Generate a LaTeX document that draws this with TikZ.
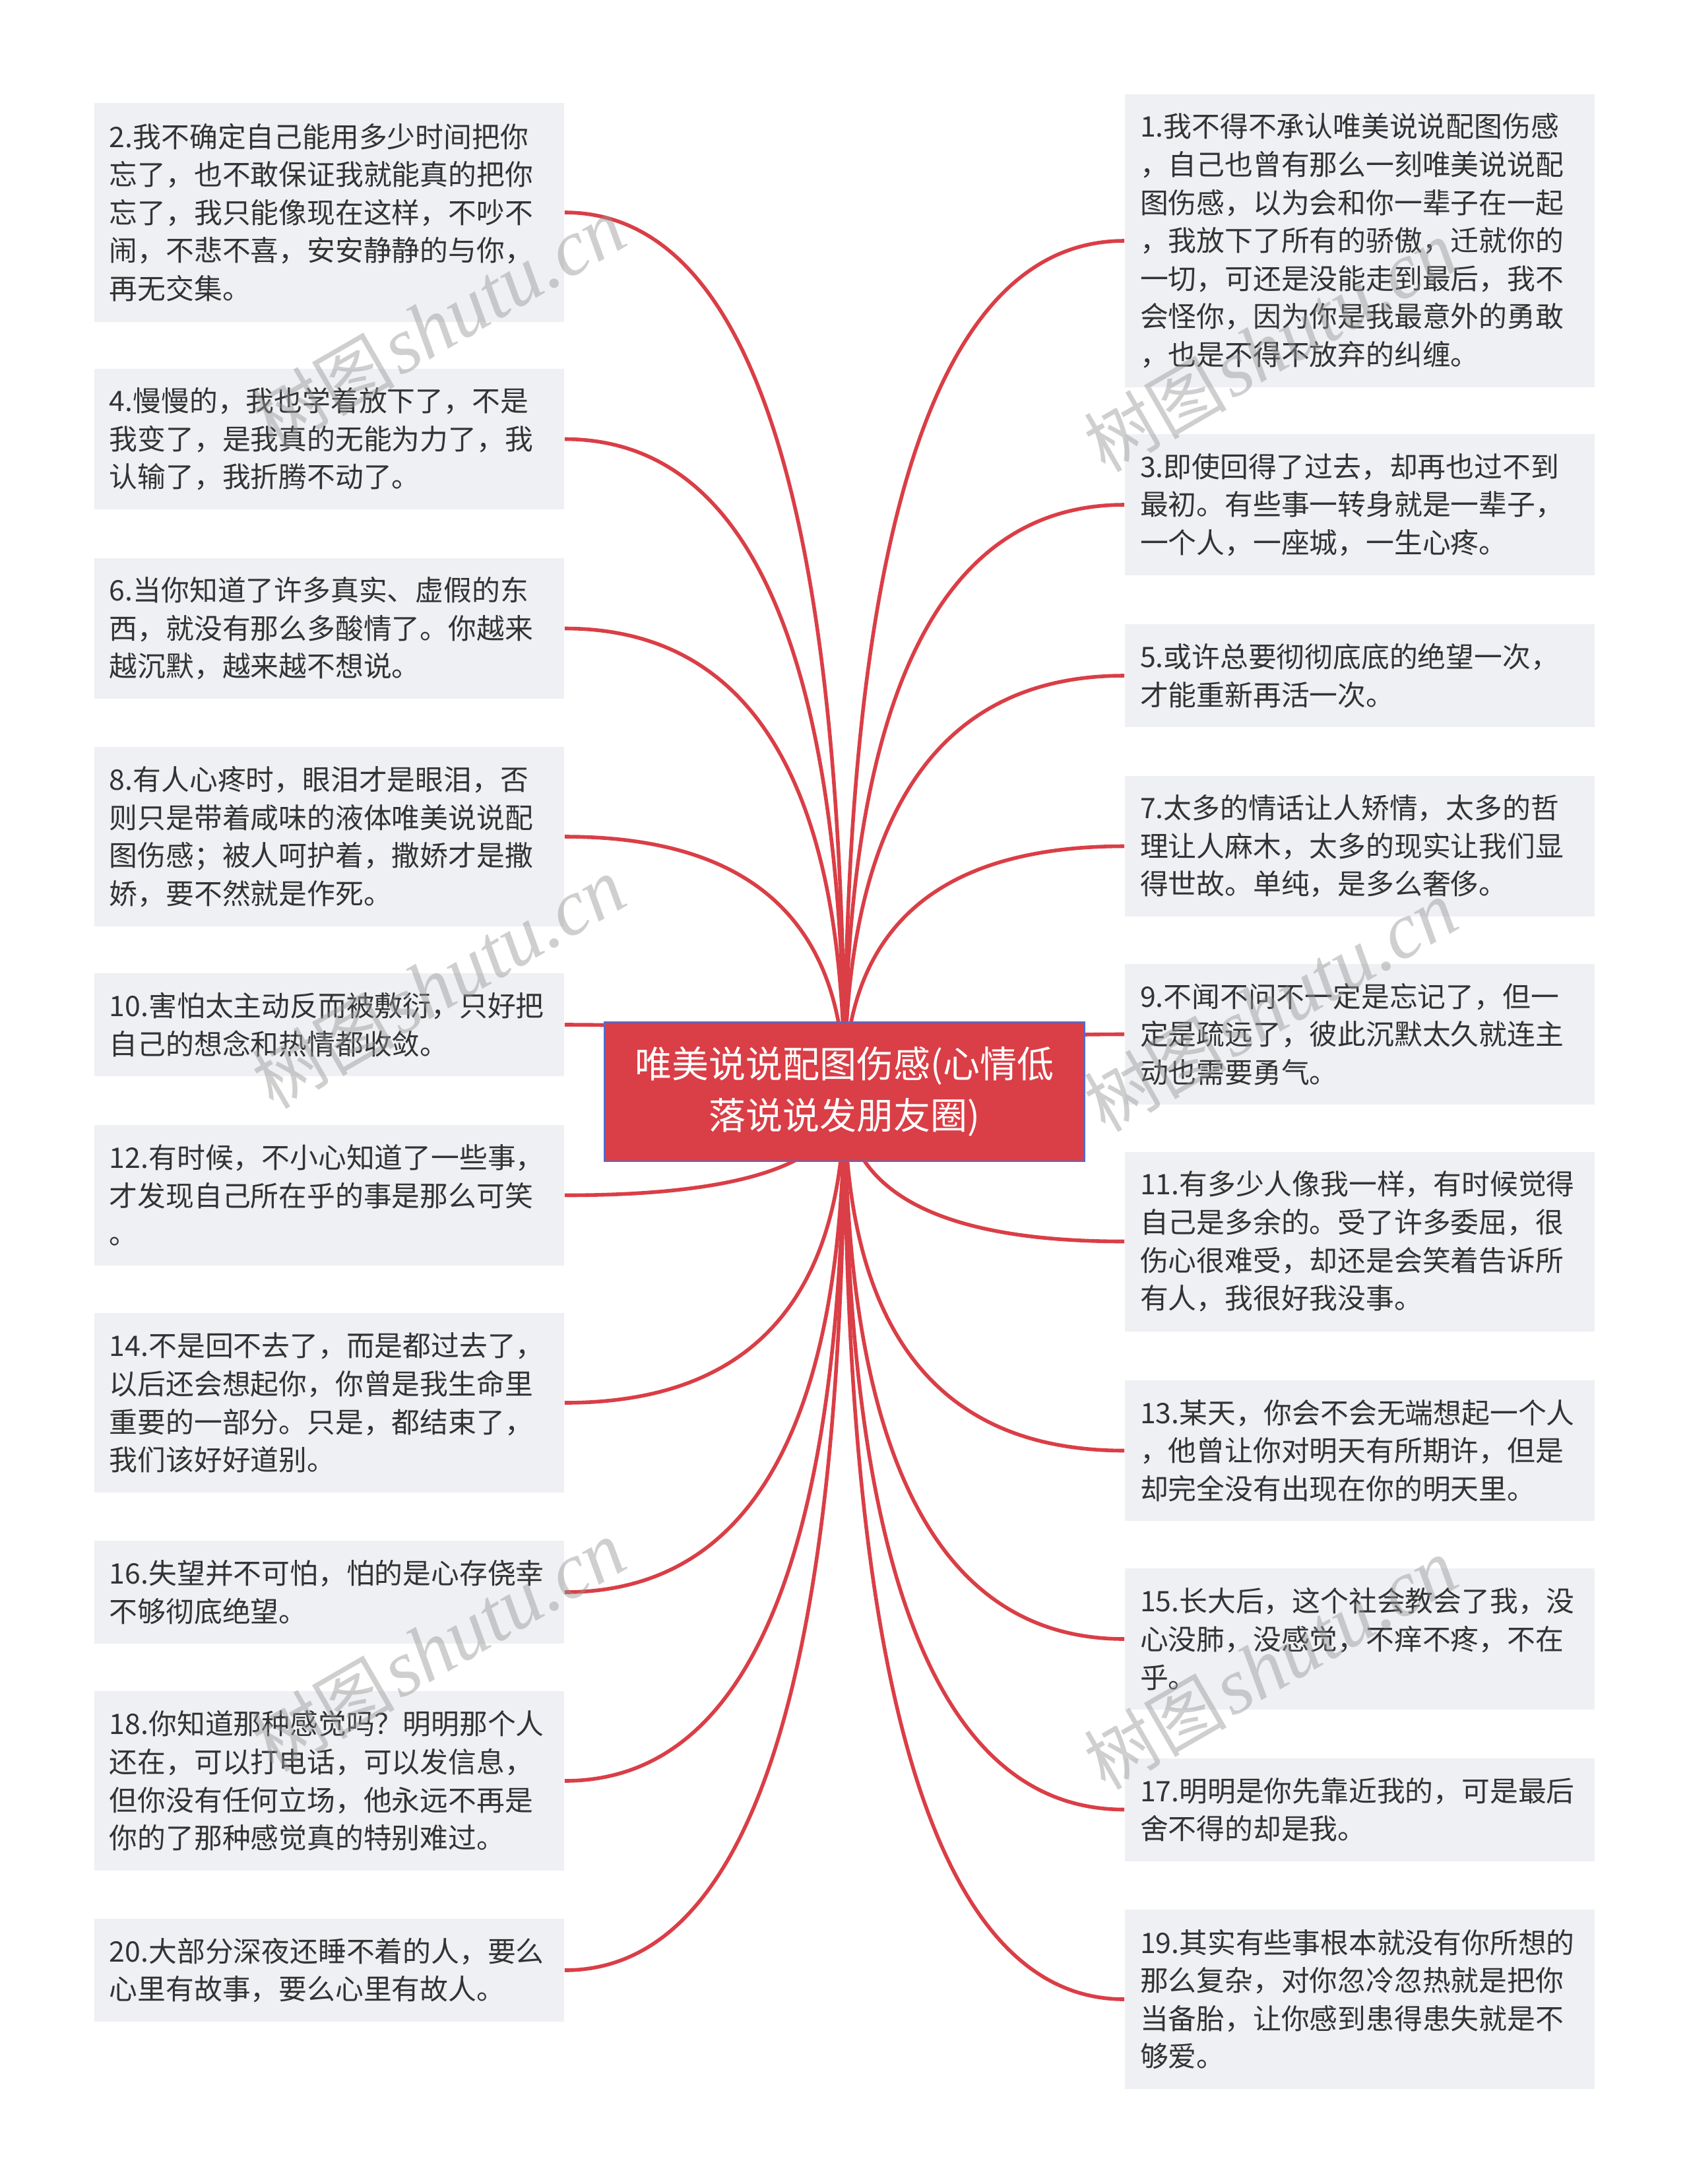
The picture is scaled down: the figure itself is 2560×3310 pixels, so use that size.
\documentclass[tikz,border=0pt]{standalone}
\usepackage{fontspec}
\newfontfamily\cjk{Noto Sans CJK SC}
\newfontfamily\wmlatin{Liberation Serif}
\usetikzlibrary{calc}
\pgfdeclarelayer{bg}
\pgfsetlayers{bg,main}
\definecolor{linkred}{RGB}{218,62,70}
\definecolor{rootblue}{RGB}{70,110,220}
\definecolor{boxbg}{RGB}{238,240,243}
\definecolor{txt}{RGB}{51,51,51}
\definecolor{wmgray}{RGB}{150,150,150}
\begin{document}
\begin{tikzpicture}[x=0.25pt,y=-0.25pt,
  leaf/.style={rectangle, fill=boxbg, text=txt, font=\cjk\fontsize{10.7pt}{14.4pt}\selectfont,
    align=left, text width=166.5pt, inner xsep=5.75pt, inner ysep=0pt, minimum width=178pt},
  l2/.style={leaf, minimum height=39pt},
  l3/.style={leaf, minimum height=53.4pt},
  l4/.style={leaf, minimum height=68pt},
  l5/.style={leaf, minimum height=83pt},
  l7/.style={leaf, minimum height=111pt},
  root/.style={rectangle, fill=linkred, draw=rootblue, line width=0.5pt, text=white,
    font=\cjk\fontsize{14pt}{19.5pt}\selectfont, align=center,
    minimum width=182pt, minimum height=52.75pt, inner sep=0pt},
  link/.style={draw=linkred, line width=1.4pt},
  wm/.style={text=wmgray, opacity=0.45, rotate=30, inner sep=0pt}
]
\useasboundingbox (0,0) rectangle (2560,3310);
\begin{pgfonlayer}{bg}
\fill[white] (0,0) rectangle (2560,3310);
\end{pgfonlayer}

\node[root] (c) at (1280,1654.5) {唯美说说配图伤感(心情低\\落说说发朋友圈)};

% left column
\node[l5] (b2) at (499,322) {2.我不确定自己能用多少时间把你\\忘了，也不敢保证我就能真的把你\\忘了，我只能像现在这样，不吵不\\闹，不悲不喜，安安静静的与你，\\再无交集。};
\node[l3] (b4) at (499,665.5) {4.慢慢的，我也学着放下了，不是\\我变了，是我真的无能为力了，我\\认输了，我折腾不动了。};
\node[l3] (b6) at (499,952.5) {6.当你知道了许多真实、虚假的东\\西，就没有那么多酸情了。你越来\\越沉默，越来越不想说。};
\node[l4] (b8) at (499,1268) {8.有人心疼时，眼泪才是眼泪，否\\则只是带着咸味的液体唯美说说配\\图伤感；被人呵护着，撒娇才是撒\\娇，要不然就是作死。};
\node[l2] (b10) at (499,1553) {10.害怕太主动反而被敷衍，只好把\\自己的想念和热情都收敛。};
\node[l3] (b12) at (499,1811.5) {12.有时候，不小心知道了一些事，\\才发现自己所在乎的事是那么可笑\\。};
\node[l4] (b14) at (499,2126) {14.不是回不去了，而是都过去了，\\以后还会想起你，你曾是我生命里\\重要的一部分。只是，都结束了，\\我们该好好道别。};
\node[l2] (b16) at (499,2413) {16.失望并不可怕，怕的是心存侥幸\\不够彻底绝望。};
\node[l4] (b18) at (499,2699) {18.你知道那种感觉吗？明明那个人\\还在，可以打电话，可以发信息，\\但你没有任何立场，他永远不再是\\你的了那种感觉真的特别难过。};
\node[l2] (b20) at (499,2986) {20.大部分深夜还睡不着的人，要么\\心里有故事，要么心里有故人。};

% right column
\node[l7] (b1) at (2061,365) {1.我不得不承认唯美说说配图伤感\\，自己也曾有那么一刻唯美说说配\\图伤感，以为会和你一辈子在一起\\，我放下了所有的骄傲，迁就你的\\一切，可还是没能走到最后，我不\\会怪你，因为你是我最意外的勇敢\\，也是不得不放弃的纠缠。};
\node[l3] (b3) at (2061,765) {3.即使回得了过去，却再也过不到\\最初。有些事一转身就是一辈子，\\一个人，一座城，一生心疼。};
\node[l2] (b5) at (2061,1024) {5.或许总要彻彻底底的绝望一次，\\才能重新再活一次。};
\node[l3] (b7) at (2061,1282.5) {7.太多的情话让人矫情，太多的哲\\理让人麻木，太多的现实让我们显\\得世故。单纯，是多么奢侈。};
\node[l3] (b9) at (2061,1567.5) {9.不闻不问不一定是忘记了，但一\\定是疏远了，彼此沉默太久就连主\\动也需要勇气。};
\node[l4] (b11) at (2061,1881.5) {11.有多少人像我一样，有时候觉得\\自己是多余的。受了许多委屈，很\\伤心很难受，却还是会笑着告诉所\\有人，我很好我没事。};
\node[l3] (b13) at (2061,2198.5) {13.某天，你会不会无端想起一个人\\，他曾让你对明天有所期许，但是\\却完全没有出现在你的明天里。};
\node[l3] (b15) at (2061,2484) {15.长大后，这个社会教会了我，没\\心没肺，没感觉，不痒不疼，不在\\乎。};
\node[l2] (b17) at (2061,2742.5) {17.明明是你先靠近我的，可是最后\\舍不得的却是我。};
\node[l4] (b19) at (2061,3030) {19.其实有些事根本就没有你所想的\\那么复杂，对你忽冷忽热就是把你\\当备胎，让你感到患得患失就是不\\够爱。};

% connectors (quadratic curves from the root centre)
\begin{pgfonlayer}{bg}
\foreach \b in {b2,b4,b6,b8,b10,b12,b14,b16,b18,b20}
  \draw[link] (c.center) .. controls ($(c.center)!0.6667!(c.center |- \b.east)$) and ($(\b.east)!0.6667!(c.center |- \b.east)$) .. (\b.east);
\foreach \b in {b1,b3,b5,b7,b9,b11,b13,b15,b17,b19}
  \draw[link] (c.center) .. controls ($(c.center)!0.6667!(c.center |- \b.west)$) and ($(\b.west)!0.6667!(c.center |- \b.west)$) .. (\b.west);
\end{pgfonlayer}

% watermarks
\foreach \i/\p in {w1/{(665,490)},w2/{(665,1490)},w3/{(665,2495)},w4/{(1926,525)},w5/{(1926,1525)},w6/{(1926,2522)}}
  \node[wm] (\i) at \p {{\cjk\fontsize{27pt}{27pt}\selectfont 树图}\,{\wmlatin\itshape\fontsize{30pt}{30pt}\selectfont shutu.cn}};
\end{tikzpicture}
\end{document}
